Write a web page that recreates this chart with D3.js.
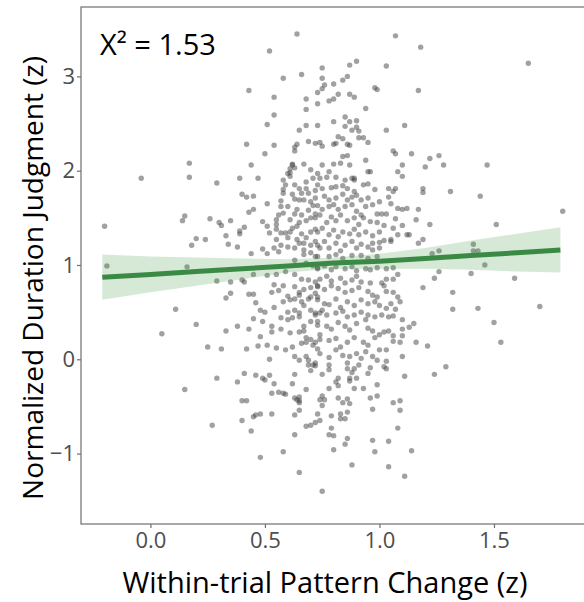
<!DOCTYPE html>
<meta charset="utf-8">
<style>
  body { margin: 0; background: #fff; }
  text { font-family: "Open Sans", sans-serif; }
</style>
<body>
<script src="https://d3js.org/d3.v7.min.js"></script>
<script>
  // points: [pattern change z, duration judgment z]
  var points = [
    [-0.20,1.41],[-0.19,0.99],[-0.04,1.92],[0.17,2.08],[0.17,1.93],[0.14,1.47],[0.15,1.52],[0.20,1.28],[0.18,1.21],[0.24,1.27],
    [0.26,1.49],[0.29,1.87],[0.30,1.45],[0.31,1.42],[0.35,1.47],[0.33,1.31],[0.34,1.22],[0.38,1.19],[0.39,1.92],[0.39,1.33],
    [0.39,1.36],[0.41,1.40],[0.42,2.28],[0.43,2.85],[0.44,2.06],[0.40,1.75],[0.42,1.72],[0.45,1.73],[0.43,1.56],[0.45,1.59],
    [0.47,1.92],[0.50,2.18],[0.51,2.49],[0.52,3.27],[0.54,2.78],[0.54,2.59],[0.54,2.27],[0.58,2.98],[0.64,3.45],[0.51,1.65],
    [0.49,1.46],[0.51,1.41],[0.52,1.34],[0.55,1.48],[0.55,1.38],[0.57,1.34],[0.54,1.18],[0.55,1.27],[0.57,1.68],[0.58,1.80],
    [0.60,1.97],[0.61,2.02],[0.62,2.07],[0.63,2.21],[0.64,2.28],[0.59,1.85],[0.62,1.75],[0.63,1.70],[0.58,1.55],[0.61,1.48],
    [0.62,1.39],[0.60,1.29],[0.59,1.34],[0.64,1.27],[0.63,1.18],[0.16,0.98],[0.49,1.17],[0.60,1.19],
    [1.07,3.43],[1.18,3.31],[1.65,3.14],[0.66,3.02],[0.75,3.09],[0.75,2.98],[0.87,3.12],[0.90,3.16],[1.03,3.11],[1.17,2.85],
    [0.68,2.76],[0.73,2.83],[0.75,2.87],[0.76,2.91],[0.80,2.92],[0.84,2.96],[0.86,3.00],[0.98,2.88],[0.99,2.86],[0.68,2.65],
    [0.73,2.71],[0.78,2.74],[0.80,2.76],[0.82,2.81],[0.87,2.81],[0.89,2.78],[0.94,2.66],[0.68,2.48],[0.73,2.48],[0.65,2.43],
    [0.80,2.52],[0.85,2.57],[0.87,2.52],[0.90,2.53],[0.85,2.47],[0.88,2.43],[0.90,2.46],[0.91,2.42],[1.03,2.43],[1.11,2.48],
    [0.63,2.25],[0.69,2.31],[0.72,2.29],[0.74,2.30],[0.75,2.26],[0.80,2.28],[0.81,2.29],[0.82,2.36],[0.84,2.34],[0.86,2.28],
    [0.87,2.27],[0.91,2.35],[0.93,2.35],[0.95,2.30],[1.06,2.21],[1.07,2.18],[1.14,2.18],[1.22,2.13],[1.26,2.16],[1.20,2.04],
    [1.28,2.06],[1.47,2.06],[1.10,2.06],[1.08,1.99],[1.10,1.94],[0.94,2.11],[0.84,2.15],[0.86,2.16],[0.83,2.08],[0.87,2.06],
    [0.80,2.07],[0.75,2.06],[0.67,2.07],[0.70,2.01],[0.62,2.06],[0.63,2.03],[0.61,1.98],[0.61,1.94],[0.58,1.90],[0.78,1.99],
    [0.73,1.97],[0.95,1.99],[0.96,1.99],[0.89,1.92],[0.93,1.85],[0.95,1.86],[0.98,1.80],[1.04,1.81],[1.07,1.81],[1.00,1.67],
    [1.04,1.72],[1.05,1.65],[1.08,1.60],[1.10,1.59],[1.12,1.60],[1.17,1.59],[1.19,1.81],[1.19,1.77],[1.31,1.78],[1.44,1.73],
    [1.16,1.48],[1.22,1.43],[1.51,1.43],[1.80,1.57],[1.07,1.49],[1.06,1.39],[1.12,1.32],[1.13,1.32],[1.19,1.27],[1.17,1.23],
    [1.23,1.12],[1.26,1.15],[1.41,1.22],[1.41,1.15],[1.43,1.15],[1.46,1.00],[1.40,0.91],[1.26,0.93],[1.24,0.86],[1.59,0.86],
    [1.32,0.71],
    [0.74,1.92],[0.77,1.93],[0.81,1.93],[0.85,1.90],[0.88,1.92],[0.89,1.90],[0.73,1.85],[0.75,1.81],[0.79,1.82],[0.81,1.83],
    [0.84,1.84],[0.86,1.81],[0.89,1.78],[0.72,1.71],[0.76,1.73],[0.78,1.69],[0.81,1.71],[0.84,1.75],[0.86,1.69],[0.88,1.72],
    [0.90,1.74],[0.92,1.69],[0.95,1.71],[1.06,1.78],[0.73,1.63],[0.75,1.59],[0.78,1.62],[0.80,1.64],[0.82,1.59],[0.85,1.62],
    [0.88,1.64],[0.90,1.57],[0.92,1.53],[0.94,1.62],[0.97,1.64],[0.99,1.54],[1.01,1.54],[1.03,1.54],[0.72,1.50],[0.74,1.53],
    [0.77,1.45],[0.79,1.51],[0.81,1.47],[0.83,1.53],[0.86,1.47],[0.89,1.50],[0.91,1.43],[0.93,1.50],[0.96,1.46],[0.99,1.45],
    [1.02,1.42],[1.10,1.42],[0.73,1.35],[0.75,1.39],[0.78,1.32],[0.80,1.37],[0.82,1.30],[0.84,1.35],[0.87,1.33],[0.89,1.38],
    [0.91,1.32],[0.94,1.35],[0.97,1.31],[1.00,1.35],[1.05,1.27],[1.08,1.32],[0.73,1.21],[0.76,1.25],[0.78,1.18],[0.81,1.23],
    [0.83,1.15],[0.85,1.21],[0.88,1.25],[0.90,1.18],[0.92,1.22],[0.95,1.19],[0.97,1.23],[1.00,1.24],[1.02,1.26],[1.05,1.25],
    [0.97,1.16],[1.00,1.18],
    [0.68,1.88],[0.71,1.92],[0.58,1.76],[0.63,1.85],[0.65,1.81],[0.66,1.76],[0.65,1.69],[0.68,1.81],[0.69,1.76],[0.72,1.79],
    [0.67,1.69],[0.70,1.67],[0.57,1.62],[0.60,1.62],[0.56,1.53],[0.63,1.54],[0.64,1.59],[0.66,1.53],[0.69,1.58],[0.71,1.63],
    [0.72,1.54],[0.65,1.45],[0.68,1.47],[0.70,1.50],[0.55,1.43],[0.64,1.41],[0.61,1.35],[0.66,1.33],[0.68,1.29],[0.70,1.35],
    [0.72,1.38],[0.65,1.23],[0.67,1.23],[0.70,1.21],[0.72,1.25],[0.74,1.18],[0.57,1.21],[0.67,1.16],[0.70,1.13],
    [0.44,1.12],[0.51,1.12],[0.56,1.14],[0.67,1.11],[0.72,1.09],[0.63,1.05],[0.68,1.02],[0.71,0.99],[0.73,0.96],[0.29,0.83],
    [0.35,0.82],[0.40,0.84],[0.41,0.82],[0.45,0.90],[0.51,0.89],[0.55,0.90],[0.59,0.93],[0.63,0.90],[0.66,0.85],[0.69,0.84],
    [0.72,0.82],[0.73,0.78],[0.54,0.79],[0.58,0.78],[0.56,0.73],[0.63,0.77],[0.65,0.71],[0.67,0.74],[0.70,0.76],[0.72,0.70],
    [0.70,0.66],[0.73,0.66],[0.43,0.69],[0.45,0.69],[0.46,0.60],[0.53,0.71],[0.60,0.67],[0.61,0.63],[0.63,0.64],[0.65,0.68],
    [0.66,0.61],[0.69,0.64],[0.33,0.65],[0.35,0.70],[0.48,0.52],[0.50,0.50],[0.54,0.55],[0.58,0.61],[0.60,0.50],[0.63,0.52],
    [0.65,0.49],[0.67,0.57],[0.70,0.52],[0.72,0.47],[0.74,0.49],[0.45,0.43],[0.49,0.40],[0.53,0.35],[0.57,0.44],[0.60,0.42],
    [0.62,0.44],[0.65,0.45],[0.67,0.35],[0.70,0.40],[0.73,0.36],[0.33,0.30],[0.38,0.35],[0.43,0.32],[0.48,0.24],[0.53,0.29],
    [0.57,0.32],[0.61,0.28],[0.65,0.29],[0.67,0.30],[0.68,0.23],[0.70,0.21],[0.72,0.18],[0.74,0.26],[0.31,0.11],[0.42,0.11],
    [0.47,0.14],[0.51,0.15],[0.55,0.12],[0.59,0.10],[0.62,0.13],[0.66,0.17],[0.68,0.18],[0.71,0.15],[0.73,0.11],[0.52,0.00],
    [0.63,0.03],[0.65,-0.01],[0.68,0.03],[0.69,-0.01],[0.72,-0.04],[0.69,-0.06],[0.71,-0.06],
    [0.11,0.53],[0.05,0.27],[0.20,0.37],[0.25,0.13],[0.15,-0.32],[0.27,-0.70],
    [0.73,1.09],[0.78,1.09],[0.81,1.11],[0.84,1.07],[0.88,1.10],[0.92,1.10],[0.95,1.07],[0.99,1.09],[0.73,0.97],[0.76,0.99],
    [0.79,0.95],[0.81,0.98],[0.85,0.96],[0.88,0.98],[0.90,0.94],[0.94,0.96],[0.96,0.95],[0.99,0.97],[1.03,0.96],[1.06,0.97],
    [1.08,0.90],[0.74,0.85],[0.77,0.88],[0.79,0.83],[0.83,0.86],[0.85,0.81],[0.88,0.84],[0.90,0.88],[0.92,0.82],[0.96,0.81],
    [1.01,0.81],[1.03,0.85],[1.06,0.85],[0.73,0.77],[0.76,0.74],[0.79,0.78],[0.82,0.75],[0.85,0.71],[0.88,0.73],[0.91,0.76],
    [0.95,0.72],[0.97,0.68],[0.99,0.66],[1.02,0.78],[1.03,0.72],[1.06,0.71],[1.08,0.66],[1.09,0.61],[1.19,0.76],[0.73,0.63],
    [0.76,0.59],[0.78,0.58],[0.81,0.64],[0.83,0.55],[0.86,0.61],[0.89,0.57],[0.92,0.63],[0.95,0.59],[0.98,0.61],[1.00,0.57],
    [1.03,0.54],[1.05,0.59],[1.07,0.53],[0.72,0.49],[0.75,0.52],[0.77,0.47],[0.81,0.49],[0.84,0.51],[0.86,0.45],[0.89,0.47],
    [0.92,0.50],[0.95,0.47],[0.98,0.45],[1.01,0.47],[1.04,0.45],[1.06,0.46],[1.10,0.42],[1.15,0.38],[0.73,0.40],[0.77,0.35],
    [0.79,0.32],[0.82,0.39],[0.85,0.35],[0.87,0.31],[0.90,0.38],[0.94,0.42],[0.95,0.33],[0.97,0.30],[1.00,0.26],[1.02,0.29],
    [1.04,0.30],[1.06,0.25],[1.10,0.32],[1.13,0.34],[1.10,0.25],[1.06,0.19],[1.09,0.18],[1.16,0.18],[0.74,0.21],[0.78,0.20],
    [0.81,0.22],[0.83,0.13],[0.86,0.18],[0.89,0.23],[0.93,0.18],[0.95,0.15],[0.98,0.23],[1.00,0.10],[1.03,0.10],[0.74,0.06],
    [0.78,0.02],[0.81,0.10],[0.84,0.04],[0.87,0.03],[0.90,0.06],[0.92,0.01],[0.94,0.08],[0.97,0.03],[0.99,-0.01],[1.10,0.03],
    [1.03,-0.02],[0.78,-0.06],[0.86,-0.04],[0.91,-0.06],[0.86,-0.10],[0.96,-0.09],[1.02,-0.08],
    [1.32,0.53],[1.43,0.54],[1.70,0.56],[1.50,0.39],[1.53,0.18],[1.21,0.14],[1.29,-0.08],[1.24,-0.16],
    [0.75,-0.16],[0.88,-0.14],[0.95,-0.15],[1.03,-0.10],[1.11,-0.18],[0.78,-0.11],[0.89,-0.10],[0.81,-0.24],[0.82,-0.20],[0.82,-0.28],
    [0.87,-0.20],[0.87,-0.23],[0.90,-0.20],[0.89,-0.31],[0.93,-0.31],[0.99,-0.27],[0.78,-0.31],[0.75,-0.39],[0.74,-0.43],[0.76,-0.43],
    [0.75,-0.49],[0.82,-0.41],[0.84,-0.46],[0.86,-0.42],[0.87,-0.47],[0.96,-0.41],[0.99,-0.39],[1.06,-0.46],[1.09,-0.44],[0.97,-0.53],
    [1.09,-0.54],[0.73,-0.58],[0.74,-0.65],[0.72,-0.67],[0.79,-0.60],[0.83,-0.58],[0.83,-0.63],[0.85,-0.63],[0.86,-0.56],[0.79,-0.73],
    [0.78,-0.80],[0.80,-0.81],[0.86,-0.84],[0.85,-0.90],[0.80,-0.96],[0.97,-0.86],[1.04,-0.87],[0.98,-0.98],[1.08,-0.73],[1.14,-0.97],
    [0.88,-1.12],[1.04,-1.14],[1.11,-1.24],[0.75,-1.40],
    [0.38,-0.24],[0.41,-0.15],[0.46,-0.17],[0.49,-0.20],[0.50,-0.22],[0.52,-0.17],[0.54,-0.26],[0.63,-0.16],[0.62,-0.26],[0.70,-0.12],
    [0.72,-0.07],[0.68,-0.32],[0.53,-0.36],[0.56,-0.35],[0.58,-0.36],[0.59,-0.37],[0.63,-0.41],[0.65,-0.40],[0.65,-0.44],[0.64,-0.43],
    [0.65,-0.46],[0.40,-0.44],[0.42,-0.44],[0.40,-0.65],[0.45,-0.61],[0.46,-0.59],[0.48,-0.58],[0.53,-0.58],[0.63,-0.59],[0.65,-0.54],
    [0.68,-0.71],[0.70,-0.70],[0.44,-0.76],[0.63,-0.80],[0.48,-1.04],[0.58,-0.98],[0.65,-1.20],[0.29,-0.20]
  ];

  // linear fit and its confidence band
  var fitX  = [-0.21, 0.0, 0.2, 0.4, 0.6, 0.8, 1.0, 1.2, 1.4, 1.6, 1.79];
  var fitY  = [0.87, 0.90, 0.93, 0.96, 0.99, 1.02, 1.04, 1.07, 1.10, 1.13, 1.16];
  var fitLo = [0.63, 0.71, 0.78, 0.85, 0.92, 0.96, 0.96, 0.96, 0.95, 0.93, 0.92];
  var fitHi = [1.11, 1.09, 1.08, 1.07, 1.06, 1.08, 1.12, 1.18, 1.26, 1.33, 1.40];

  var xTicks = [0.0, 0.5, 1.0, 1.5];
  var yTicks = [-1, 0, 1, 2, 3];
  var statLabel = "X\u00b2 = 1.53";

  var W = 584, H = 602;
  var panelLeft = 81, panelTop = 7, panelBottom = 524;

  var x = d3.scaleLinear().domain([-0.303, 1.893]).range([panelLeft, W]);
  var y = d3.scaleLinear().domain([-1.747, 3.736]).range([panelBottom, panelTop]);

  var svg = d3.select("body").append("svg")
    .attr("width", W)
    .attr("height", H);

  // panel border (right side runs off the picture)
  svg.append("rect")
    .attr("x", panelLeft)
    .attr("y", panelTop)
    .attr("width", W + 10 - panelLeft)
    .attr("height", panelBottom - panelTop)
    .attr("fill", "none")
    .attr("stroke", "#6e6e6e")
    .attr("stroke-width", 1.2);

  svg.append("g")
    .selectAll("circle")
    .data(points)
    .enter()
    .append("circle")
    .attr("cx", function (d) { return x(d[0]); })
    .attr("cy", function (d) { return y(d[1]); })
    .attr("r", 2.7)
    .attr("fill", "#444")
    .attr("fill-opacity", 0.5);

  var band = fitX.map(function (v, i) { return [v, fitLo[i], fitHi[i]]; });
  svg.append("path")
    .datum(band)
    .attr("fill", "#3f9a45")
    .attr("fill-opacity", 0.22)
    .attr("d", d3.area()
      .x(function (d) { return x(d[0]); })
      .y0(function (d) { return y(d[1]); })
      .y1(function (d) { return y(d[2]); }));

  svg.append("path")
    .datum(fitX.map(function (v, i) { return [v, fitY[i]]; }))
    .attr("fill", "none")
    .attr("stroke", "#3a8a46")
    .attr("stroke-width", 5)
    .attr("d", d3.line()
      .x(function (d) { return x(d[0]); })
      .y(function (d) { return y(d[1]); }));

  var fmtY = function (d) { return d < 0 ? "\u2212" + Math.abs(d) : String(d); };

  var yAxis = svg.append("g")
    .attr("transform", "translate(" + panelLeft + ",0)")
    .call(d3.axisLeft(y).tickValues(yTicks).tickFormat(fmtY).tickSize(4).tickPadding(2));
  var xAxis = svg.append("g")
    .attr("transform", "translate(0," + panelBottom + ")")
    .call(d3.axisBottom(x).tickValues(xTicks).tickFormat(d3.format(".1f")).tickSize(4).tickPadding(4));

  [yAxis, xAxis].forEach(function (g) {
    g.select(".domain").remove();
    g.selectAll(".tick line").attr("stroke", "#6e6e6e").attr("stroke-width", 1.2);
    g.selectAll(".tick text")
      .attr("fill", "#4d4d4d")
      .style("font-family", "'Open Sans', sans-serif")
      .style("font-size", "22px");
  });

  svg.append("text")
    .attr("x", 325)
    .attr("y", 593)
    .attr("text-anchor", "middle")
    .style("font-size", "29px")
    .text("Within-trial Pattern Change (z)");

  svg.append("text")
    .attr("transform", "translate(43,278) rotate(-90)")
    .attr("text-anchor", "middle")
    .style("font-size", "28px")
    .text("Normalized Duration Judgment (z)");

  svg.append("text")
    .attr("x", 100)
    .attr("y", 55)
    .style("font-size", "29px")
    .text(statLabel);
</script>
</body>
